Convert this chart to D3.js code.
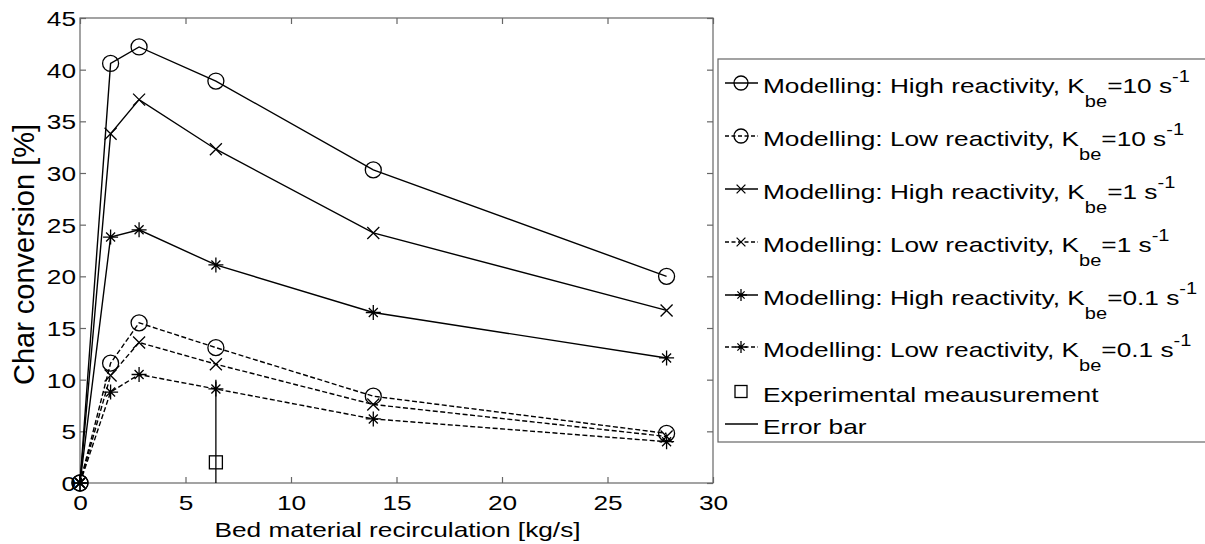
<!DOCTYPE html>
<html><head><meta charset="utf-8">
<script src="https://cdn.jsdelivr.net/npm/d3@7"></script>
<style>body{margin:0;background:#fff}svg{display:block}text{font-family:"Liberation Sans",Arial,sans-serif;fill:#000}</style>
</head><body>
<svg id="c" width="1205" height="544"></svg>
<script>
const xValues = [0, 1.45, 2.8, 6.44, 13.9, 27.8];
const highK10 = [0, 40.6, 42.2, 38.9, 30.3, 20.0];
const lowK10  = [0, 11.6, 15.5, 13.1, 8.4, 4.8];
const highK1  = [0, 33.8, 37.1, 32.3, 24.2, 16.7];
const lowK1   = [0, 10.4, 13.6, 11.5, 7.6, 4.5];
const highK01 = [0, 23.8, 24.5, 21.1, 16.5, 12.1];
const lowK01  = [0, 8.8, 10.5, 9.1, 6.2, 4.0];
const expX = [6.44], expY = [2.0], errLow = [0], errHigh = [10];
const xTicks = [0, 5, 10, 15, 20, 25, 30];
const yTicks = [0, 5, 10, 15, 20, 25, 30, 35, 40, 45];
const seriesNames = ["High reactivity", "Low reactivity", "High reactivity", "Low reactivity", "High reactivity", "Low reactivity"];
const seriesK = ["10", "10", "1", "1", "0.1", "0.1"];

const series = [
  {v: highK10, m: "circle", dash: null},
  {v: lowK10, m: "circle", dash: "5,2.5"},
  {v: highK1, m: "x", dash: null},
  {v: lowK1, m: "x", dash: "5,2.5"},
  {v: highK01, m: "star", dash: null},
  {v: lowK01, m: "star", dash: "5,2.5"}
];

const svg = d3.select("#c");
const L = 80, R = 713, T = 18, B = 483;
const x = d3.scaleLinear().domain([0, 30]).range([L, R]);
const y = d3.scaleLinear().domain([0, 45]).range([B, T]);
const axisCol = "#666";
const SX = 1.25;

// box
svg.append("rect").attr("x", L).attr("y", T).attr("width", R - L).attr("height", B - T)
  .attr("fill", "none").attr("stroke", axisCol).attr("stroke-width", 1.2);

// axes via d3
const gx = svg.append("g").attr("transform", `translate(0,${B})`)
  .call(d3.axisBottom(x).tickValues(xTicks).tickSize(-6).tickSizeOuter(0).tickFormat(d3.format("d")));
const gxt = svg.append("g").attr("transform", `translate(0,${T})`)
  .call(d3.axisTop(x).tickValues(xTicks).tickSize(-6).tickSizeOuter(0).tickFormat(""));
const gy = svg.append("g").attr("transform", `translate(${L},0)`)
  .call(d3.axisLeft(y).tickValues(yTicks).tickSize(-6).tickSizeOuter(0).tickFormat(d3.format("d")));
const gyr = svg.append("g").attr("transform", `translate(${R},0)`)
  .call(d3.axisRight(y).tickValues(yTicks).tickSize(-6).tickSizeOuter(0).tickFormat(""));
[gx, gxt, gy, gyr].forEach(g => {
  g.select(".domain").remove();
  g.selectAll(".tick line").attr("stroke", axisCol).attr("stroke-width", 1.2);
});
gx.selectAll(".tick text").each(function(d) {
  const t = d3.select(this);
  t.attr("y", null).attr("dy", null).attr("font-size", 21).attr("text-anchor", "middle")
   .attr("transform", `translate(0,27) scale(${SX},1)`);
});
gy.selectAll(".tick text").each(function(d) {
  const t = d3.select(this);
  t.attr("x", null).attr("dy", null).attr("font-size", 21).attr("text-anchor", "end")
   .attr("transform", `translate(-4,7.5) scale(${SX},1)`);
});

// axis titles
svg.append("text").attr("transform", `translate(${(L + R) / 2 + 1},537) scale(${SX},1)`)
  .attr("text-anchor", "middle").attr("font-size", 21).text("Bed material recirculation [kg/s]");
svg.append("text").attr("transform", `translate(34,${(T + B) / 2 + 4}) rotate(-90)`)
  .attr("text-anchor", "middle").attr("font-size", 29).text("Char conversion [%]");

// markers
function drawMarker(g, m, cx, cy, s) {
  if (m === "circle") {
    g.append("circle").attr("cx", cx).attr("cy", cy).attr("r", s).attr("fill", "none")
      .attr("stroke", "#000").attr("stroke-width", 1.3);
  } else if (m === "x") {
    const a = s * 0.8;
    g.append("path").attr("d", `M${cx - a},${cy - a}L${cx + a},${cy + a}M${cx - a},${cy + a}L${cx + a},${cy - a}`)
      .attr("stroke", "#000").attr("stroke-width", 1.3).attr("fill", "none");
  } else if (m === "star") {
    const a = s * 0.6;
    g.append("path").attr("d", `M${cx - s},${cy}L${cx + s},${cy}M${cx},${cy - s}L${cx},${cy + s}M${cx - a},${cy - a}L${cx + a},${cy + a}M${cx - a},${cy + a}L${cx + a},${cy - a}`)
      .attr("stroke", "#000").attr("stroke-width", 1.3).attr("fill", "none");
  } else if (m === "square") {
    g.append("rect").attr("x", cx - s).attr("y", cy - s).attr("width", 2 * s).attr("height", 2 * s)
      .attr("fill", "none").attr("stroke", "#000").attr("stroke-width", 1.3);
  }
}
const msize = {circle: 8, x: 7.5, star: 7.5};

const plot = svg.append("g");
const line = d3.line().x((d, i) => x(xValues[i])).y(d => y(d));
series.forEach(s => {
  plot.append("path").datum(s.v).attr("d", line).attr("fill", "none")
    .attr("stroke", "#000").attr("stroke-width", 1.4)
    .attr("stroke-dasharray", s.dash);
  s.v.forEach((v, i) => drawMarker(plot, s.m, x(xValues[i]), y(v), msize[s.m]));
});

// error bar and experiment
expX.forEach((ex, i) => {
  plot.append("line").attr("x1", x(ex)).attr("x2", x(ex)).attr("y1", y(errLow[i])).attr("y2", y(errHigh[i]))
    .attr("stroke", "#000").attr("stroke-width", 1.3);
  drawMarker(plot, "square", x(ex), y(expY[i]), 6.5);
});

// legend
const lg = svg.append("g");
lg.append("rect").attr("x", 718).attr("y", 59).attr("width", 500).attr("height", 383)
  .attr("fill", "#fff").attr("stroke", axisCol).attr("stroke-width", 1.2);
const rowBase = [93, 146, 199, 252, 305, 357];
const lmsize = {circle: 7, x: 5.5, star: 6};
series.forEach((s, i) => {
  const cy = rowBase[i] - 10;
  lg.append("line").attr("x1", 725).attr("x2", 758).attr("y1", cy).attr("y2", cy)
    .attr("stroke", "#000").attr("stroke-width", 1.3).attr("stroke-dasharray", s.dash ? "4,2.5" : null);
  drawMarker(lg, s.m, 741, cy, lmsize[s.m]);
  const t = lg.append("text").attr("transform", `translate(763,${rowBase[i]}) scale(${SX},1)`).attr("font-size", 21);
  t.append("tspan").text(`Modelling: ${seriesNames[i]}, K`);
  t.append("tspan").attr("font-size", 16).attr("dy", 14).text("be");
  t.append("tspan").attr("dy", -14).text(`=${seriesK[i]} s`);
  t.append("tspan").attr("font-size", 16).attr("dy", -11).text("-1");
});
drawMarker(lg, "square", 741, 391.5, 6);
lg.append("text").attr("transform", `translate(763,401.5) scale(${SX},1)`).attr("font-size", 21).text("Experimental meausurement");
lg.append("line").attr("x1", 725).attr("x2", 758).attr("y1", 424).attr("y2", 424).attr("stroke", "#000").attr("stroke-width", 1.3);
lg.append("text").attr("transform", `translate(763,434) scale(${SX},1)`).attr("font-size", 21).text("Error bar");
</script>
</body></html>
